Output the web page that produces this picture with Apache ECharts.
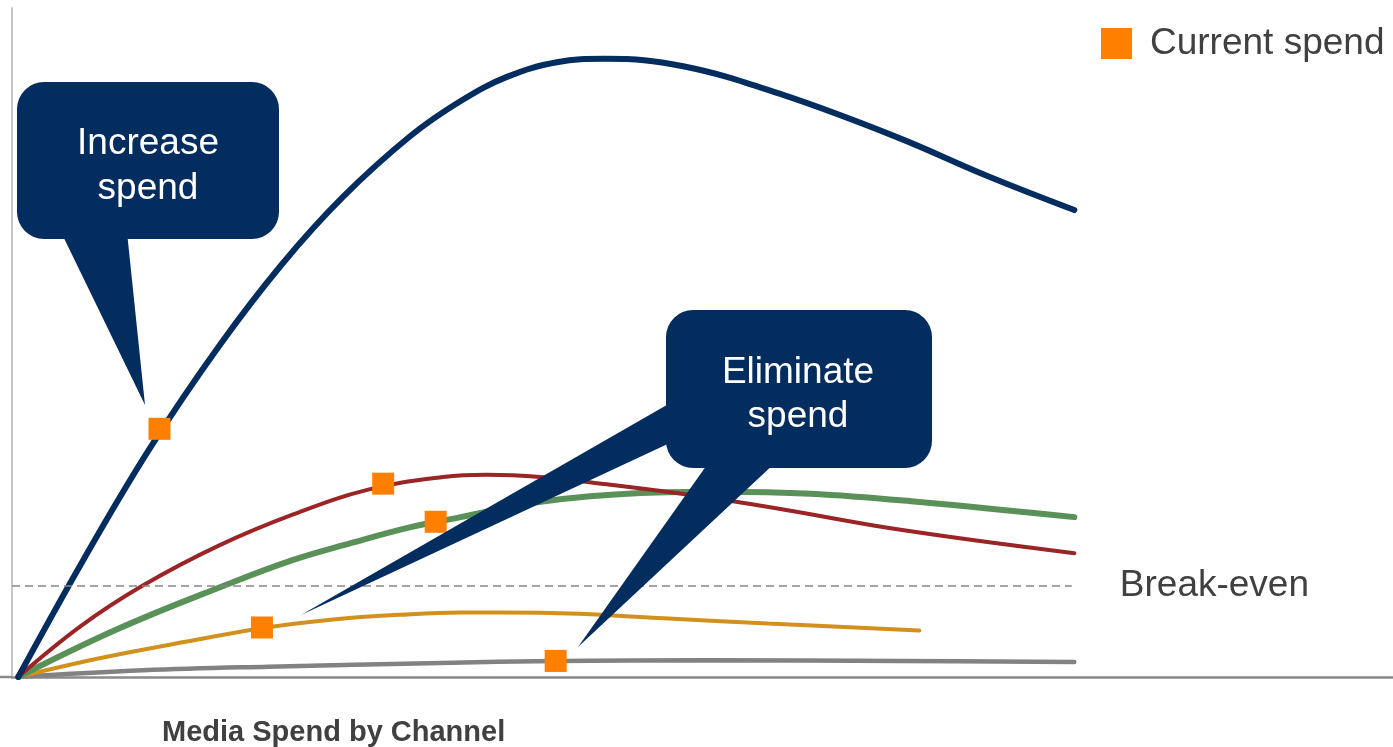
<!DOCTYPE html>
<html>
<head>
<meta charset="utf-8">
<script src="https://cdn.jsdelivr.net/npm/echarts@6/dist/echarts.min.js"></script>
<style>
  html, body { margin: 0; padding: 0; background: #fff; }
  #chart { width: 1393px; height: 747px; }
</style>
</head>
<body>
<div id="chart"></div>
<script>
// Response curves: [spend, return]
const channelA = [[0,0],[5.3,17.8],[10.5,34.1],[16.0,49.3],[21.1,61.7],[26.0,71.8],[31.4,80.9],[35.4,86.1],[39.1,89.7],[43.1,91.9],[46.9,92.4],[53.2,91.3],[61.2,87.0],[70.3,80.7],[77.4,75.0],[84.5,69.8]];
const channelB = [[0,0],[5.0,7.6],[10.0,13.7],[16.0,19.6],[22.0,24.3],[28.0,28.0],[34.0,29.9],[37.5,30.25],[41.8,29.9],[47.1,28.8],[53.8,27.2],[60.4,25.3],[70.6,22.0],[84.5,18.5]];
const channelC = [[0,0],[8.0,7.2],[16.4,13.6],[22.0,17.5],[26.6,20.0],[31.4,22.4],[35.4,23.9],[41.8,26.2],[49.8,27.5],[56.0,27.7],[63.4,27.4],[71.9,26.2],[84.5,23.9]];
const channelD = [[0,0],[6.5,2.8],[13.5,5.3],[19.5,7.3],[25.2,8.6],[30.5,9.3],[35.4,9.65],[41.8,9.6],[52.4,8.7],[60.0,8.0],[72.1,6.95]];
const channelE = [[0,0],[10.0,1.0],[20.0,1.55],[33.8,2.1],[43.0,2.39],[55.0,2.5],[70.6,2.4],[84.5,2.24]];
// Current spend points
const currentSpend = [[11.3,37.1],[29.2,28.9],[33.4,23.2],[19.5,7.4],[43.0,2.4]];
const breakEven = 13.7;
const breakEvenEnd = 84.3;

const FONT = '"Liberation Sans", Arial, sans-serif';
const NAVY = '#032D5E';

function curve(name, data, color, width) {
  return {
    name: name, type: 'line', data: data, smooth: 0.4, symbol: 'none',
    lineStyle: { color: color, width: width, cap: 'round' },
    emphasis: { disabled: true }, silent: true, z: 2
  };
}

const chart = echarts.init(document.getElementById('chart'));
chart.setOption({
  animation: false,
  backgroundColor: '#ffffff',
  title: {
    text: 'Media Spend by Channel', left: 162, top: 718, padding: 0,
    textStyle: { fontFamily: FONT, fontSize: 29, fontWeight: 'bold', color: '#404040' }
  },
  legend: {
    data: ['Current spend'], left: 1101, top: 25, padding: 0,
    itemWidth: 31, itemHeight: 31, icon: 'rect',
    textStyle: { fontFamily: FONT, fontSize: 37, color: '#404040', padding: [0, 0, 0, 13] },
    selectedMode: false
  },
  grid: { left: 12, right: 0, top: 8, bottom: 70 },
  xAxis: {
    type: 'value', min: -0.5, max: 110,
    axisLine: { show: true, onZero: false, lineStyle: { color: '#8a8a8a', width: 2.5 } },
    axisTick: { show: false }, axisLabel: { show: false }, splitLine: { show: false }
  },
  yAxis: {
    type: 'value', min: 0, max: 100,
    axisLine: { show: true, onZero: false, lineStyle: { color: '#b3b3b3', width: 1.5 } },
    axisTick: { show: false }, axisLabel: { show: false }, splitLine: { show: false }
  },
  series: [
    curve('Channel E', channelE, '#828282', 4.5),
    curve('Channel D', channelD, '#D2901C', 4),
    Object.assign(curve('Channel C', channelC, '#5A9158', 6), {
      markLine: {
        silent: true, symbol: 'none',
        lineStyle: { color: '#888888', width: 1.5, type: [8, 5] },
        label: {
          show: true, position: 'end', formatter: 'Break-even', distance: 48,
          fontFamily: FONT, fontSize: 37, color: '#404040', padding: [6, 0, 0, 0]
        },
        data: [[{ coord: [-0.5, breakEven] }, { coord: [breakEvenEnd, breakEven] }]]
      }
    }),
    curve('Channel B', channelB, '#9A2426', 4),
    curve('Channel A', channelA, NAVY, 6),
    {
      name: 'Current spend', type: 'scatter', data: currentSpend,
      symbol: 'rect', symbolSize: 22,
      itemStyle: { color: '#FF7F00', opacity: 1 }, z: 5, silent: true
    }
  ],
  graphic: [
    { type: 'line', shape: { x1: 0, y1: 677, x2: 12, y2: 677 }, style: { stroke: '#8a8a8a', lineWidth: 2.5 }, z: 1 },
    // Increase spend callout
    { type: 'polygon', shape: { points: [[61, 232], [127, 232], [145, 405]] }, style: { fill: NAVY }, z: 100 },
    { type: 'rect', shape: { x: 17, y: 82, width: 262, height: 157, r: 27 }, style: { fill: NAVY }, z: 100 },
    { type: 'text', x: 148, y: 166, z: 101,
      style: { text: 'Increase\nspend', fill: '#ffffff', font: '37px ' + FONT, align: 'center', verticalAlign: 'middle', lineHeight: 45 } },
    // Eliminate spend callout
    { type: 'polygon', shape: { points: [[672, 402], [672, 442], [301, 615]] }, style: { fill: NAVY }, z: 100 },
    { type: 'polygon', shape: { points: [[709, 462], [776, 462], [578, 647]] }, style: { fill: NAVY }, z: 100 },
    { type: 'rect', shape: { x: 666, y: 310, width: 266, height: 158, r: 27 }, style: { fill: NAVY }, z: 100 },
    { type: 'text', x: 798, y: 395, z: 101,
      style: { text: 'Eliminate\nspend', fill: '#ffffff', font: '37px ' + FONT, align: 'center', verticalAlign: 'middle', lineHeight: 44 } }
  ]
});
</script>
</body>
</html>
